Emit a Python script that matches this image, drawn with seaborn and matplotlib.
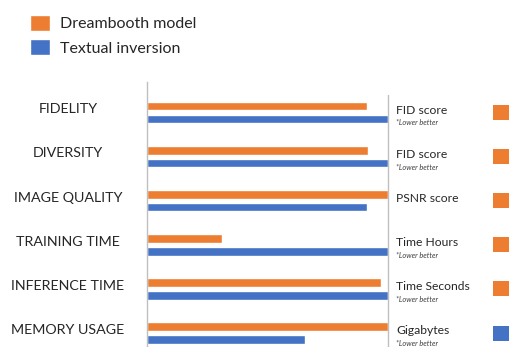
import matplotlib
matplotlib.use("Agg")
import matplotlib.pyplot as plt
import matplotlib.transforms as mtransforms
from matplotlib.patches import Rectangle
import pandas as pd
import seaborn as sns

# Criteria and relative scores (normalised to the larger of the two models)
criteria = ["FIDELITY", "DIVERSITY", "IMAGE QUALITY", "TRAINING TIME",
            "INFERENCE TIME", "MEMORY USAGE"]
models = ["Dreambooth model", "Textual inversion"]
dreambooth = [0.913, 0.915, 1.0, 0.31, 0.97, 1.0]
textual = [1.0, 1.0, 0.913, 1.0, 1.0, 0.656]
metrics = ["FID score", "FID score", "PSNR score", "Time Hours",
           "Time Seconds", "Gigabytes"]
lower_better = [True, True, False, True, True, True]
winners = ["Dreambooth model"] * 5 + ["Textual inversion"]

palette = {"Dreambooth model": "#ED7D31", "Textual inversion": "#4472C4"}

df = pd.DataFrame({
    "criterion": criteria * 2,
    "score": dreambooth + textual,
    "model": [models[0]] * len(criteria) + [models[1]] * len(criteria),
})

sns.set_theme(style="white")
plt.rcParams["font.family"] = ["Lato", "DejaVu Sans"]

fig = plt.figure(figsize=(5.09, 3.47), dpi=100)
ax = fig.add_axes([147 / 509, 0.0, 241 / 509, 265 / 347])

sns.barplot(data=df, y="criterion", x="score", hue="model", order=criteria,
            hue_order=models, palette=palette, orient="h", width=0.58,
            gap=0.32, saturation=1, ax=ax, legend=True)

ax.set_xlim(0, 1.0)
ax.set_ylim(5.317, -0.692)
ax.set_xlabel("")
ax.set_ylabel("")
ax.set_xticks([])
for side in ["top", "right", "bottom"]:
    ax.spines[side].set_visible(False)
ax.spines["left"].set_color("#BFBFBF")
ax.spines["left"].set_linewidth(1.0)
ax.axvline(1.0, ymin=0, ymax=0.951, color="#BFBFBF", lw=1.0, clip_on=False)

ax.tick_params(axis="y", length=0, pad=57)
for lbl in ax.get_yticklabels():
    lbl.set_ha("center")
    lbl.set_fontsize(10.3)
    lbl.set_color("#262626")
    lbl.set_transform(lbl.get_transform() + mtransforms.ScaledTranslation(0, 3 / 72, fig.dpi_scale_trans))

blend = mtransforms.blended_transform_factory(ax.transAxes, ax.transData)
for i, (m, lb, w) in enumerate(zip(metrics, lower_better, winners)):
    ax.annotate(m, xy=(1.035, i), xycoords=blend, xytext=(0, 1.5),
                textcoords="offset points", ha="left", va="center",
                fontsize=8.7, color="#262626", annotation_clip=False)
    if lb:
        ax.annotate("*Lower better", xy=(1.035, i), xycoords=blend,
                    xytext=(0, -7.5), textcoords="offset points", ha="left",
                    va="center", fontsize=5.3, style="italic",
                    color="#404040", annotation_clip=False)
    ax.add_patch(Rectangle((1.436, i - 0.17), 0.07, 0.34, transform=blend,
                           facecolor=palette[w], edgecolor="none",
                           clip_on=False))

sns.move_legend(ax, "upper left", bbox_to_anchor=(16 / 509, 1 - 1 / 347),
                bbox_transform=fig.transFigure, frameon=False, title=None,
                fontsize=11.5, handlelength=1.25, handleheight=1.1,
                handletextpad=0.6, labelspacing=0.5)

fig.savefig("out.png", dpi=100)
